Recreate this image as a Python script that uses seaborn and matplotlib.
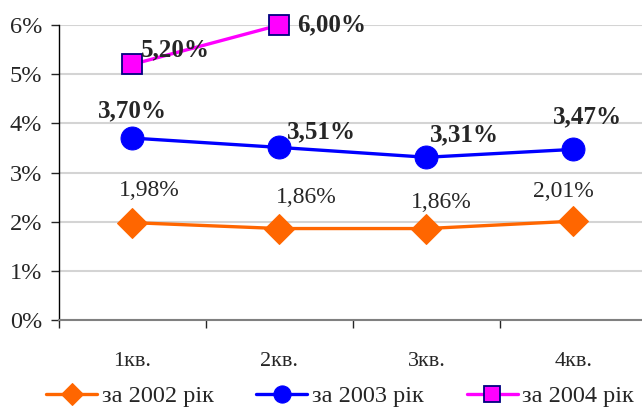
import matplotlib
matplotlib.use("Agg")
import matplotlib.pyplot as plt
import seaborn as sns
import pandas as pd
from matplotlib.ticker import FuncFormatter, MultipleLocator

# дані
quarters = ["1кв.", "2кв.", "3кв.", "4кв."]
y2002 = [1.98, 1.86, 1.86, 2.01]
y2003 = [3.70, 3.51, 3.31, 3.47]
y2004 = [5.20, 6.00]
series_names = ["за 2002 рік", "за 2003 рік", "за 2004 рік"]

sns.set_style("white")
plt.rcParams["font.family"] = ["Liberation Serif", "DejaVu Serif"]

fig = plt.figure(figsize=(6.42, 4.09), dpi=100)
ax = fig.add_axes([59 / 642, 1 - 320 / 409, 1 - 59 / 642, (320 - 25) / 409])

x = list(range(len(quarters)))
styles = [
    dict(color="#FF6600", marker="D", markersize=15.5, mfc="#FF6600", mec="#FF6600"),
    dict(color="#0000FF", marker="o", markersize=16.5, mfc="#0000FF", mec="#0000FF"),
    dict(color="#FF00FF", marker="s", markersize=14.5, mfc="#FF00FF", mec="#000080", mew=1.3),
]
all_vals = [y2002, y2003, y2004]

for vals, name, st in zip(all_vals, series_names, styles):
    df = pd.DataFrame({"x": x[:len(vals)], "y": [v / 100 for v in vals]})
    sns.lineplot(data=df, x="x", y="y", ax=ax, linewidth=2.4, label=name,
                 clip_on=False, zorder=3, **st)

# підписи значень (зсуви в пікселях)
off2002 = [(17, 32), (27, 31), (15, 26), (-10, 30)]
off2003 = [(0, 27), (42, 16), (38, 22), (14, 33)]
off2004 = [(43, 15), (52, 0)]

def fmt(v):
    return f"{v:.2f}%".replace(".", ",")

for i, v in enumerate(y2002):
    ax.annotate(fmt(v), (i, v / 100), xytext=off2002[i], textcoords="offset pixels",
                ha="center", va="center", fontsize=17)
for i, v in enumerate(y2003):
    ax.annotate(fmt(v), (i, v / 100), xytext=off2003[i], textcoords="offset pixels",
                ha="center", va="center", fontsize=18, fontweight="bold")
for i, v in enumerate(y2004):
    ax.annotate(fmt(v), (i, v / 100), xytext=off2004[i], textcoords="offset pixels",
                ha="center", va="center", fontsize=18, fontweight="bold")

ax.set_xlim(-0.5, 3.466)
ax.set_ylim(0, 0.06)
ax.yaxis.set_major_locator(MultipleLocator(0.01))
ax.yaxis.set_major_formatter(FuncFormatter(lambda v, p: f"{v * 100:.0f}%"))
ax.set_xticks(x)
ax.set_xticklabels(quarters)
ax.set_xticks([-0.5, 0.5, 1.5, 2.5], minor=True)
ax.tick_params(axis="x", which="major", length=0, labelsize=16, pad=23)
ax.tick_params(axis="x", which="minor", length=6, width=1, direction="out", bottom=True)
ax.tick_params(axis="y", length=6, width=1, direction="out", labelsize=17.5, pad=6, left=True)
ax.set_xlabel("")
ax.set_ylabel("")

ax.grid(axis="y", color="#D4D4D4", linewidth=1.5)
ax.set_axisbelow(True)
for s in ["top", "right"]:
    ax.spines[s].set_visible(False)
ax.spines["left"].set_color("black")
ax.spines["left"].set_linewidth(1)
ax.spines["bottom"].set_color("#808080")
ax.spines["bottom"].set_linewidth(1.5)

ax.legend(loc="center left", bbox_to_anchor=(46 / 642, 1 - 396 / 409),
          bbox_transform=fig.transFigure, ncol=3, frameon=False,
          fontsize=17.5, handlelength=2.1, handletextpad=0.2, columnspacing=1.75,
          borderaxespad=0, borderpad=0, markerscale=0.75)

fig.savefig("out.png", dpi=100)
